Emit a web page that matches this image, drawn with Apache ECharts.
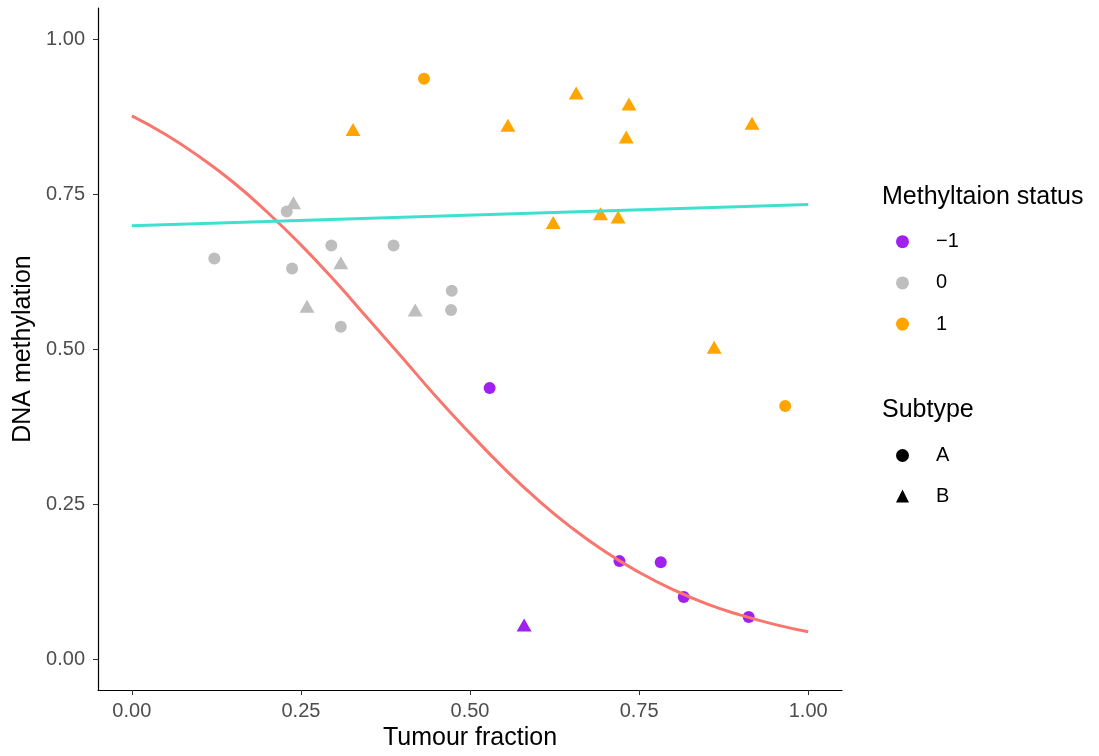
<!DOCTYPE html>
<html>
<head>
<meta charset="utf-8">
<script src="https://cdn.jsdelivr.net/npm/echarts@6/dist/echarts.min.js"></script>
<style>
  html, body { margin: 0; padding: 0; background: #fff; }
  #chart { width: 1099px; height: 756px; }
</style>
</head>
<body>
<div id="chart"></div>
<script>
// 每个点：肿瘤比例 / 甲基化 / 状态 / 亚型
var tumourFraction = [0.122, 0.229, 0.239, 0.237, 0.295, 0.309, 0.387, 0.259, 0.309, 0.419, 0.473, 0.472,
                      0.432, 0.327, 0.657, 0.735, 0.556, 0.731, 0.917, 0.623, 0.693, 0.719, 0.861, 0.966,
                      0.529, 0.580, 0.721, 0.782, 0.816, 0.912];
var methylation    = [0.646, 0.722, 0.736, 0.630, 0.667, 0.639, 0.667, 0.569, 0.536, 0.563, 0.594, 0.563,
                      0.936, 0.854, 0.913, 0.895, 0.861, 0.842, 0.864, 0.704, 0.718, 0.713, 0.503, 0.408,
                      0.437, 0.055, 0.158, 0.156, 0.100, 0.068];
// 注意：不能叫 status（window.status 会被转成字符串）
var methylStatus   = ['0', '0', '0', '0', '0', '0', '0', '0', '0', '0', '0', '0',
                      '1', '1', '1', '1', '1', '1', '1', '1', '1', '1', '1', '1',
                      '−1', '−1', '−1', '−1', '−1', '−1'];
var subtype        = ['A', 'A', 'B', 'A', 'A', 'B', 'A', 'B', 'A', 'B', 'A', 'A',
                      'A', 'B', 'B', 'B', 'B', 'B', 'B', 'B', 'B', 'B', 'B', 'A',
                      'A', 'B', 'A', 'A', 'A', 'A'];

var statusLevels = ['−1', '0', '1'];
var statusColors = ['#A020F0', '#BEBEBE', '#FFA500'];
var subtypeLevels = ['A', 'B'];
var subtypeSymbols = ['circle', 'triangle'];

// 拟合曲线
var fitX = [0, 0.05, 0.10, 0.15, 0.20, 0.25, 0.30, 0.35, 0.40, 0.45, 0.50,
            0.55, 0.60, 0.65, 0.70, 0.75, 0.80, 0.85, 0.90, 0.95, 1.00];
var logisticFit = [0.876, 0.846, 0.810, 0.769, 0.721, 0.668, 0.610, 0.548, 0.486, 0.423, 0.364,
                   0.308, 0.257, 0.212, 0.173, 0.140, 0.112, 0.089, 0.071, 0.056, 0.044];
var linearX = [0, 1];
var linearFit = [0.699, 0.733];

var tickValues = [0, 0.25, 0.5, 0.75, 1];

(function() {
    var chart = echarts.init(document.getElementById('chart'));
    var font = 'Liberation Sans, Arial, sans-serif';

    function pairs(xs, ys) {
        return xs.map(function(x, i) { return [x, ys[i]]; });
    }

    var series = [];
    // 状态 x 亚型，同名系列在图例里合并
    statusLevels.forEach(function(level, k) {
        subtypeLevels.forEach(function(sub, j) {
            var data = [];
            for (var i = 0; i < tumourFraction.length; i++) {
                if (methylStatus[i] === level && subtype[i] === sub) {
                    data.push([tumourFraction[i], methylation[i]]);
                }
            }
            series.push({
                name: level,
                type: 'scatter',
                data: data,
                symbol: subtypeSymbols[j],
                symbolSize: sub === 'B' ? [15, 13] : 12,
                itemStyle: { color: statusColors[k], opacity: 1 },
                z: 2
            });
        });
    });
    // 只用于图例（形状）
    subtypeLevels.forEach(function(s) {
        series.push({ name: s, type: 'scatter', data: [], itemStyle: { color: '#000', opacity: 1 } });
    });
    series.push({
        type: 'line', data: pairs(fitX, logisticFit), smooth: true, showSymbol: false, silent: true,
        lineStyle: { color: '#F8766D', width: 3 }, z: 3
    });
    series.push({
        type: 'line', data: pairs(linearX, linearFit), showSymbol: false, silent: true,
        lineStyle: { color: '#40E0D0', width: 3 }, z: 4
    });

    var legendText = { fontSize: 20, color: '#000', fontFamily: font, padding: [0, 0, 0, 22] };
    var titleText = { fontSize: 25, fontWeight: 'normal', color: '#000', fontFamily: font };

    var option = {
        backgroundColor: '#fff',
        animation: false,
        textStyle: { fontFamily: font },
        grid: { left: 98, right: 257, top: 8, bottom: 64, containLabel: false },
        title: [
            { text: 'Methyltaion status', left: 882, top: 185, padding: 0, textStyle: titleText },
            { text: 'Subtype', left: 882, top: 397.5, padding: 0, textStyle: titleText }
        ],
        legend: [
            { data: statusLevels.map(function(n) { return { name: n, icon: 'circle' }; }),
              orient: 'vertical', left: 896, top: 231.7, padding: 0,
              itemWidth: 13, itemHeight: 13, itemGap: 21.2,
              textStyle: legendText, selectedMode: false },
            { data: [{ name: 'A', icon: 'circle' }, { name: 'B', icon: 'triangle' }],
              orient: 'vertical', left: 896, top: 445.5, padding: 0,
              itemWidth: 13, itemHeight: 13, itemGap: 20.5,
              textStyle: legendText, selectedMode: false }
        ],
        xAxis: {
            type: 'value', min: -0.05, max: 1.05,
            name: 'Tumour fraction', nameLocation: 'middle', nameGap: 35,
            nameTextStyle: { fontSize: 25, color: '#000', fontFamily: font },
            axisLine: { show: true, onZero: false, lineStyle: { color: '#000', width: 1.2 } },
            axisTick: { show: true, length: 5, customValues: tickValues, lineStyle: { color: '#333' } },
            axisLabel: { customValues: tickValues, margin: 11, fontSize: 20, color: '#4D4D4D',
                         formatter: function(v) { return v.toFixed(2); } },
            splitLine: { show: false }
        },
        yAxis: {
            type: 'value', min: -0.05, max: 1.05,
            name: 'DNA methylation', nameLocation: 'middle', nameGap: 62,
            nameTextStyle: { fontSize: 25, color: '#000', fontFamily: font },
            axisLine: { show: true, onZero: false, lineStyle: { color: '#000', width: 1.2 } },
            axisTick: { show: true, length: 5, customValues: tickValues, lineStyle: { color: '#333' } },
            axisLabel: { customValues: tickValues, margin: 13, fontSize: 20, color: '#4D4D4D',
                         formatter: function(v) { return v.toFixed(2); } },
            splitLine: { show: false }
        },
        series: series
    };
    chart.setOption(option);
})();
</script>
</body>
</html>
